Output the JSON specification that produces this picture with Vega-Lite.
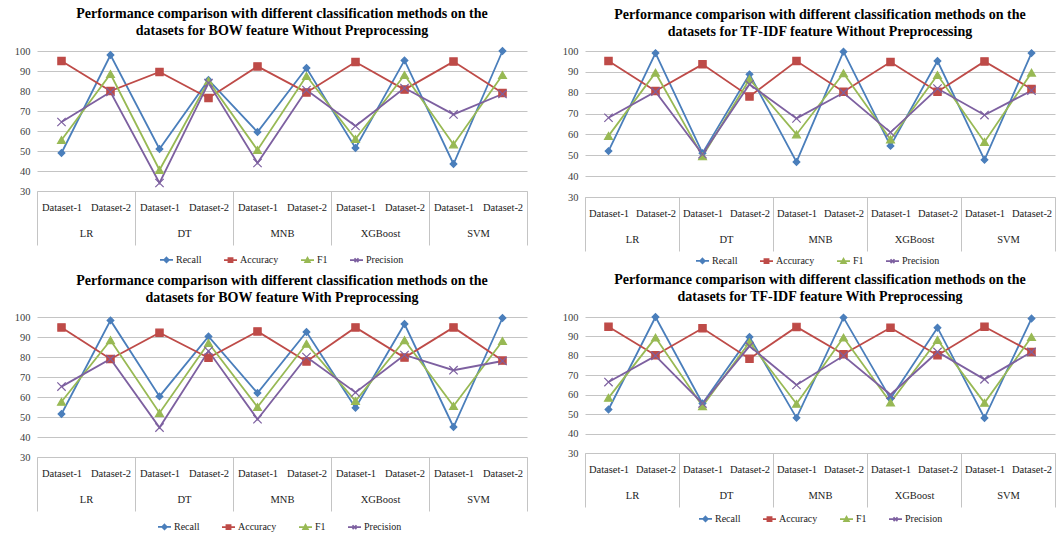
{
"$schema": "https://vega.github.io/schema/vega-lite/v6.json",
"padding": {"left": 14, "top": 7, "right": 0, "bottom": 0},
"background": "white",
"config": {"view": {"stroke": null}, "font": "Liberation Serif", "axis": {"labelFont": "Liberation Serif"}, "legend": {"labelFont": "Liberation Serif"}},
"datasets": {"d": [
{"p":"A","cat":"LR|Dataset-1","model":"LR","metric":"Recall","value":49},
{"p":"A","cat":"LR|Dataset-1","model":"LR","metric":"Accuracy","value":95},
{"p":"A","cat":"LR|Dataset-1","model":"LR","metric":"F1","value":55.5},
{"p":"A","cat":"LR|Dataset-1","model":"LR","metric":"Precision","value":64.5},
{"p":"A","cat":"LR|Dataset-2","model":"LR","metric":"Recall","value":98},
{"p":"A","cat":"LR|Dataset-2","model":"LR","metric":"Accuracy","value":80},
{"p":"A","cat":"LR|Dataset-2","model":"LR","metric":"F1","value":88.5},
{"p":"A","cat":"LR|Dataset-2","model":"LR","metric":"Precision","value":79.5},
{"p":"A","cat":"DT|Dataset-1","model":"DT","metric":"Recall","value":51},
{"p":"A","cat":"DT|Dataset-1","model":"DT","metric":"Accuracy","value":89.5},
{"p":"A","cat":"DT|Dataset-1","model":"DT","metric":"F1","value":40.5},
{"p":"A","cat":"DT|Dataset-1","model":"DT","metric":"Precision","value":34},
{"p":"A","cat":"DT|Dataset-2","model":"DT","metric":"Recall","value":85.5},
{"p":"A","cat":"DT|Dataset-2","model":"DT","metric":"Accuracy","value":76.5},
{"p":"A","cat":"DT|Dataset-2","model":"DT","metric":"F1","value":85},
{"p":"A","cat":"DT|Dataset-2","model":"DT","metric":"Precision","value":84},
{"p":"A","cat":"MNB|Dataset-1","model":"MNB","metric":"Recall","value":59.5},
{"p":"A","cat":"MNB|Dataset-1","model":"MNB","metric":"Accuracy","value":92.3},
{"p":"A","cat":"MNB|Dataset-1","model":"MNB","metric":"F1","value":50.5},
{"p":"A","cat":"MNB|Dataset-1","model":"MNB","metric":"Precision","value":44},
{"p":"A","cat":"MNB|Dataset-2","model":"MNB","metric":"Recall","value":91.5},
{"p":"A","cat":"MNB|Dataset-2","model":"MNB","metric":"Accuracy","value":79.3},
{"p":"A","cat":"MNB|Dataset-2","model":"MNB","metric":"F1","value":87.5},
{"p":"A","cat":"MNB|Dataset-2","model":"MNB","metric":"Precision","value":80.5},
{"p":"A","cat":"XGBoost|Dataset-1","model":"XGBoost","metric":"Recall","value":51.5},
{"p":"A","cat":"XGBoost|Dataset-1","model":"XGBoost","metric":"Accuracy","value":94.5},
{"p":"A","cat":"XGBoost|Dataset-1","model":"XGBoost","metric":"F1","value":56},
{"p":"A","cat":"XGBoost|Dataset-1","model":"XGBoost","metric":"Precision","value":62.5},
{"p":"A","cat":"XGBoost|Dataset-2","model":"XGBoost","metric":"Recall","value":95.3},
{"p":"A","cat":"XGBoost|Dataset-2","model":"XGBoost","metric":"Accuracy","value":80.7},
{"p":"A","cat":"XGBoost|Dataset-2","model":"XGBoost","metric":"F1","value":88},
{"p":"A","cat":"XGBoost|Dataset-2","model":"XGBoost","metric":"Precision","value":81.5},
{"p":"A","cat":"SVM|Dataset-1","model":"SVM","metric":"Recall","value":43.5},
{"p":"A","cat":"SVM|Dataset-1","model":"SVM","metric":"Accuracy","value":94.7},
{"p":"A","cat":"SVM|Dataset-1","model":"SVM","metric":"F1","value":53.3},
{"p":"A","cat":"SVM|Dataset-1","model":"SVM","metric":"Precision","value":68.3},
{"p":"A","cat":"SVM|Dataset-2","model":"SVM","metric":"Recall","value":100},
{"p":"A","cat":"SVM|Dataset-2","model":"SVM","metric":"Accuracy","value":79},
{"p":"A","cat":"SVM|Dataset-2","model":"SVM","metric":"F1","value":88},
{"p":"A","cat":"SVM|Dataset-2","model":"SVM","metric":"Precision","value":78.5},
{"p":"B","cat":"LR|Dataset-1","model":"LR","metric":"Recall","value":52},
{"p":"B","cat":"LR|Dataset-1","model":"LR","metric":"Accuracy","value":95.2},
{"p":"B","cat":"LR|Dataset-1","model":"LR","metric":"F1","value":59.3},
{"p":"B","cat":"LR|Dataset-1","model":"LR","metric":"Precision","value":68},
{"p":"B","cat":"LR|Dataset-2","model":"LR","metric":"Recall","value":99},
{"p":"B","cat":"LR|Dataset-2","model":"LR","metric":"Accuracy","value":80.8},
{"p":"B","cat":"LR|Dataset-2","model":"LR","metric":"F1","value":89.6},
{"p":"B","cat":"LR|Dataset-2","model":"LR","metric":"Precision","value":80.5},
{"p":"B","cat":"DT|Dataset-1","model":"DT","metric":"Recall","value":51},
{"p":"B","cat":"DT|Dataset-1","model":"DT","metric":"Accuracy","value":93.6},
{"p":"B","cat":"DT|Dataset-1","model":"DT","metric":"F1","value":49.5},
{"p":"B","cat":"DT|Dataset-1","model":"DT","metric":"Precision","value":50.5},
{"p":"B","cat":"DT|Dataset-2","model":"DT","metric":"Recall","value":88.8},
{"p":"B","cat":"DT|Dataset-2","model":"DT","metric":"Accuracy","value":78.2},
{"p":"B","cat":"DT|Dataset-2","model":"DT","metric":"F1","value":86.5},
{"p":"B","cat":"DT|Dataset-2","model":"DT","metric":"Precision","value":84},
{"p":"B","cat":"MNB|Dataset-1","model":"MNB","metric":"Recall","value":46.8},
{"p":"B","cat":"MNB|Dataset-1","model":"MNB","metric":"Accuracy","value":95.2},
{"p":"B","cat":"MNB|Dataset-1","model":"MNB","metric":"F1","value":60},
{"p":"B","cat":"MNB|Dataset-1","model":"MNB","metric":"Precision","value":67.7},
{"p":"B","cat":"MNB|Dataset-2","model":"MNB","metric":"Recall","value":99.7},
{"p":"B","cat":"MNB|Dataset-2","model":"MNB","metric":"Accuracy","value":80.5},
{"p":"B","cat":"MNB|Dataset-2","model":"MNB","metric":"F1","value":89.3},
{"p":"B","cat":"MNB|Dataset-2","model":"MNB","metric":"Precision","value":80},
{"p":"B","cat":"XGBoost|Dataset-1","model":"XGBoost","metric":"Recall","value":54.5},
{"p":"B","cat":"XGBoost|Dataset-1","model":"XGBoost","metric":"Accuracy","value":94.7},
{"p":"B","cat":"XGBoost|Dataset-1","model":"XGBoost","metric":"F1","value":57.6},
{"p":"B","cat":"XGBoost|Dataset-1","model":"XGBoost","metric":"Precision","value":61},
{"p":"B","cat":"XGBoost|Dataset-2","model":"XGBoost","metric":"Recall","value":95.2},
{"p":"B","cat":"XGBoost|Dataset-2","model":"XGBoost","metric":"Accuracy","value":80.5},
{"p":"B","cat":"XGBoost|Dataset-2","model":"XGBoost","metric":"F1","value":88.5},
{"p":"B","cat":"XGBoost|Dataset-2","model":"XGBoost","metric":"Precision","value":82},
{"p":"B","cat":"SVM|Dataset-1","model":"SVM","metric":"Recall","value":47.8},
{"p":"B","cat":"SVM|Dataset-1","model":"SVM","metric":"Accuracy","value":95},
{"p":"B","cat":"SVM|Dataset-1","model":"SVM","metric":"F1","value":56.4},
{"p":"B","cat":"SVM|Dataset-1","model":"SVM","metric":"Precision","value":69.3},
{"p":"B","cat":"SVM|Dataset-2","model":"SVM","metric":"Recall","value":99},
{"p":"B","cat":"SVM|Dataset-2","model":"SVM","metric":"Accuracy","value":81.8},
{"p":"B","cat":"SVM|Dataset-2","model":"SVM","metric":"F1","value":89.6},
{"p":"B","cat":"SVM|Dataset-2","model":"SVM","metric":"Precision","value":81},
{"p":"C","cat":"LR|Dataset-1","model":"LR","metric":"Recall","value":51.5},
{"p":"C","cat":"LR|Dataset-1","model":"LR","metric":"Accuracy","value":94.8},
{"p":"C","cat":"LR|Dataset-1","model":"LR","metric":"F1","value":57.6},
{"p":"C","cat":"LR|Dataset-1","model":"LR","metric":"Precision","value":65.2},
{"p":"C","cat":"LR|Dataset-2","model":"LR","metric":"Recall","value":98.3},
{"p":"C","cat":"LR|Dataset-2","model":"LR","metric":"Accuracy","value":79},
{"p":"C","cat":"LR|Dataset-2","model":"LR","metric":"F1","value":88.4},
{"p":"C","cat":"LR|Dataset-2","model":"LR","metric":"Precision","value":79},
{"p":"C","cat":"DT|Dataset-1","model":"DT","metric":"Recall","value":60.3},
{"p":"C","cat":"DT|Dataset-1","model":"DT","metric":"Accuracy","value":92.1},
{"p":"C","cat":"DT|Dataset-1","model":"DT","metric":"F1","value":52},
{"p":"C","cat":"DT|Dataset-1","model":"DT","metric":"Precision","value":44.7},
{"p":"C","cat":"DT|Dataset-2","model":"DT","metric":"Recall","value":90.3},
{"p":"C","cat":"DT|Dataset-2","model":"DT","metric":"Accuracy","value":79.6},
{"p":"C","cat":"DT|Dataset-2","model":"DT","metric":"F1","value":87},
{"p":"C","cat":"DT|Dataset-2","model":"DT","metric":"Precision","value":83},
{"p":"C","cat":"MNB|Dataset-1","model":"MNB","metric":"Recall","value":62},
{"p":"C","cat":"MNB|Dataset-1","model":"MNB","metric":"Accuracy","value":92.8},
{"p":"C","cat":"MNB|Dataset-1","model":"MNB","metric":"F1","value":55},
{"p":"C","cat":"MNB|Dataset-1","model":"MNB","metric":"Precision","value":48.9},
{"p":"C","cat":"MNB|Dataset-2","model":"MNB","metric":"Recall","value":92.5},
{"p":"C","cat":"MNB|Dataset-2","model":"MNB","metric":"Accuracy","value":77.8},
{"p":"C","cat":"MNB|Dataset-2","model":"MNB","metric":"F1","value":86.6},
{"p":"C","cat":"MNB|Dataset-2","model":"MNB","metric":"Precision","value":80},
{"p":"C","cat":"XGBoost|Dataset-1","model":"XGBoost","metric":"Recall","value":54.6},
{"p":"C","cat":"XGBoost|Dataset-1","model":"XGBoost","metric":"Accuracy","value":94.8},
{"p":"C","cat":"XGBoost|Dataset-1","model":"XGBoost","metric":"F1","value":58},
{"p":"C","cat":"XGBoost|Dataset-1","model":"XGBoost","metric":"Precision","value":62.3},
{"p":"C","cat":"XGBoost|Dataset-2","model":"XGBoost","metric":"Recall","value":96.5},
{"p":"C","cat":"XGBoost|Dataset-2","model":"XGBoost","metric":"Accuracy","value":79.7},
{"p":"C","cat":"XGBoost|Dataset-2","model":"XGBoost","metric":"F1","value":88.4},
{"p":"C","cat":"XGBoost|Dataset-2","model":"XGBoost","metric":"Precision","value":81},
{"p":"C","cat":"SVM|Dataset-1","model":"SVM","metric":"Recall","value":45},
{"p":"C","cat":"SVM|Dataset-1","model":"SVM","metric":"Accuracy","value":94.8},
{"p":"C","cat":"SVM|Dataset-1","model":"SVM","metric":"F1","value":55.5},
{"p":"C","cat":"SVM|Dataset-1","model":"SVM","metric":"Precision","value":73.4},
{"p":"C","cat":"SVM|Dataset-2","model":"SVM","metric":"Recall","value":99.5},
{"p":"C","cat":"SVM|Dataset-2","model":"SVM","metric":"Accuracy","value":78.2},
{"p":"C","cat":"SVM|Dataset-2","model":"SVM","metric":"F1","value":88},
{"p":"C","cat":"SVM|Dataset-2","model":"SVM","metric":"Precision","value":78},
{"p":"D","cat":"LR|Dataset-1","model":"LR","metric":"Recall","value":52.4},
{"p":"D","cat":"LR|Dataset-1","model":"LR","metric":"Accuracy","value":95},
{"p":"D","cat":"LR|Dataset-1","model":"LR","metric":"F1","value":58.4},
{"p":"D","cat":"LR|Dataset-1","model":"LR","metric":"Precision","value":66.5},
{"p":"D","cat":"LR|Dataset-2","model":"LR","metric":"Recall","value":100},
{"p":"D","cat":"LR|Dataset-2","model":"LR","metric":"Accuracy","value":80.3},
{"p":"D","cat":"LR|Dataset-2","model":"LR","metric":"F1","value":89.4},
{"p":"D","cat":"LR|Dataset-2","model":"LR","metric":"Precision","value":80},
{"p":"D","cat":"DT|Dataset-1","model":"DT","metric":"Recall","value":55.5},
{"p":"D","cat":"DT|Dataset-1","model":"DT","metric":"Accuracy","value":94.2},
{"p":"D","cat":"DT|Dataset-1","model":"DT","metric":"F1","value":54.1},
{"p":"D","cat":"DT|Dataset-1","model":"DT","metric":"Precision","value":55.5},
{"p":"D","cat":"DT|Dataset-2","model":"DT","metric":"Recall","value":89.7},
{"p":"D","cat":"DT|Dataset-2","model":"DT","metric":"Accuracy","value":78.5},
{"p":"D","cat":"DT|Dataset-2","model":"DT","metric":"F1","value":87},
{"p":"D","cat":"DT|Dataset-2","model":"DT","metric":"Precision","value":85},
{"p":"D","cat":"MNB|Dataset-1","model":"MNB","metric":"Recall","value":48.1},
{"p":"D","cat":"MNB|Dataset-1","model":"MNB","metric":"Accuracy","value":94.9},
{"p":"D","cat":"MNB|Dataset-1","model":"MNB","metric":"F1","value":55.3},
{"p":"D","cat":"MNB|Dataset-1","model":"MNB","metric":"Precision","value":65},
{"p":"D","cat":"MNB|Dataset-2","model":"MNB","metric":"Recall","value":99.7},
{"p":"D","cat":"MNB|Dataset-2","model":"MNB","metric":"Accuracy","value":80.8},
{"p":"D","cat":"MNB|Dataset-2","model":"MNB","metric":"F1","value":89.4},
{"p":"D","cat":"MNB|Dataset-2","model":"MNB","metric":"Precision","value":80},
{"p":"D","cat":"XGBoost|Dataset-1","model":"XGBoost","metric":"Recall","value":58},
{"p":"D","cat":"XGBoost|Dataset-1","model":"XGBoost","metric":"Accuracy","value":94.5},
{"p":"D","cat":"XGBoost|Dataset-1","model":"XGBoost","metric":"F1","value":56},
{"p":"D","cat":"XGBoost|Dataset-1","model":"XGBoost","metric":"Precision","value":60},
{"p":"D","cat":"XGBoost|Dataset-2","model":"XGBoost","metric":"Recall","value":94.5},
{"p":"D","cat":"XGBoost|Dataset-2","model":"XGBoost","metric":"Accuracy","value":80.3},
{"p":"D","cat":"XGBoost|Dataset-2","model":"XGBoost","metric":"F1","value":88.2},
{"p":"D","cat":"XGBoost|Dataset-2","model":"XGBoost","metric":"Precision","value":82},
{"p":"D","cat":"SVM|Dataset-1","model":"SVM","metric":"Recall","value":48},
{"p":"D","cat":"SVM|Dataset-1","model":"SVM","metric":"Accuracy","value":95},
{"p":"D","cat":"SVM|Dataset-1","model":"SVM","metric":"F1","value":55.8},
{"p":"D","cat":"SVM|Dataset-1","model":"SVM","metric":"Precision","value":67.9},
{"p":"D","cat":"SVM|Dataset-2","model":"SVM","metric":"Recall","value":99.2},
{"p":"D","cat":"SVM|Dataset-2","model":"SVM","metric":"Accuracy","value":82},
{"p":"D","cat":"SVM|Dataset-2","model":"SVM","metric":"F1","value":89.7},
{"p":"D","cat":"SVM|Dataset-2","model":"SVM","metric":"Precision","value":82}
]},
"data": {"name": "d"},
"spacing": 6,
"resolve": {"scale": {"x": "independent", "y": "independent", "color": "independent", "stroke": "independent", "shape": "independent", "size": "independent"}, "legend": {"color": "independent", "stroke": "independent", "shape": "independent", "size": "independent"}},
"vconcat": [
{"hconcat": [
{"width": 490, "height": 140,
 "title": {"text": ["Performance comparison with different classification methods on the", "datasets for BOW feature Without Preprocessing"], "font": "Liberation Serif", "fontSize": 14, "fontWeight": "bold", "color": "#000000", "lineHeight": 17, "offset": 7, "anchor": "middle"},
 "transform": [{"filter": {"field": "p", "equal": "A"}}],
 "encoding": {"y": {"field": "value", "type": "quantitative", "scale": {"domain": [30, 100], "nice": false, "zero": false}, "axis": {"values": [30, 40, 50, 60, 70, 80, 90, 100], "grid": true, "gridColor": "#c4c4c4", "domain": false, "ticks": false, "labelFont": "Liberation Serif", "labelFontSize": 10.5, "labelColor": "#404040", "labelPadding": 7, "title": null}}},
 "layer": [
  {"encoding": {"x": {"field": "cat", "type": "nominal", "sort": ["LR|Dataset-1","LR|Dataset-2","DT|Dataset-1","DT|Dataset-2","MNB|Dataset-1","MNB|Dataset-2","XGBoost|Dataset-1","XGBoost|Dataset-2","SVM|Dataset-1","SVM|Dataset-2"], "scale": {"type": "point", "padding": 0.5}, "axis": {"orient": "bottom", "title": null, "labelExpr": "split(datum.value,'|')[1]", "labelAngle": 0, "ticks": false, "domain": true, "domainColor": "#c4c4c4", "labelPadding": 11, "labelFont": "Liberation Serif", "labelFontSize": 10.5, "labelColor": "#222222", "grid": false, "labelOverlap": false}}},
   "layer": [
    {"mark": {"type": "line", "strokeWidth": 1.8}, "encoding": {"color": {"field": "metric", "type": "nominal", "scale": {"domain": ["Recall","Accuracy","F1","Precision"], "range": ["#4A7EBB","#BE4B48","#98B954","#7D60A0"]}, "legend": null}}},
    {"mark": {"type": "point", "filled": true, "opacity": 1, "strokeWidth": 1.2}, "encoding": {
      "color": {"field": "metric", "type": "nominal", "scale": {"domain": ["Recall","Accuracy","F1","Precision"], "range": ["#4A7EBB","#BE4B48","#98B954","#7D60A0"]}, "legend": null},
      "stroke": {"field": "metric", "type": "nominal", "scale": {"domain": ["Recall","Accuracy","F1","Precision"], "range": ["#4A7EBB","#BE4B48","#98B954","#7D60A0"]}, "legend": null},
      "shape": {"field": "metric", "type": "nominal", "scale": {"domain": ["Recall","Accuracy","F1","Precision"], "range": ["diamond","square","triangle-up","M-1,-1L1,1M-1,1L1,-1"]}, "legend": null},
      "size": {"field": "metric", "type": "nominal", "scale": {"domain": ["Recall","Accuracy","F1","Precision"], "range": [45, 70, 45, 36]}, "legend": null}}},
    {"transform": [{"filter": {"field": "value", "lt": 0}}], "mark": {"type": "point", "filled": true, "strokeWidth": 1.6}, "encoding": {
      "color": {"field": "metric", "type": "nominal", "scale": {"domain": ["Recall","Accuracy","F1","Precision"], "range": ["#4A7EBB","#BE4B48","#98B954","#7D60A0"]}, "legend": {"title": null, "orient": "none", "legendX": 122, "legendY": 201, "direction": "horizontal", "symbolSize": 169, "symbolStrokeWidth": 1.6, "symbolOpacity": 1, "labelFont": "Liberation Serif", "labelFontSize": 10, "labelColor": "#222222", "columnPadding": 18, "labelOffset": 2}},
      "stroke": {"field": "metric", "type": "nominal", "scale": {"domain": ["Recall","Accuracy","F1","Precision"], "range": ["#4A7EBB","#BE4B48","#98B954","#7D60A0"]}, "legend": {"title": null, "orient": "none", "legendX": 122, "legendY": 201, "direction": "horizontal", "symbolSize": 169, "symbolStrokeWidth": 1.6, "symbolOpacity": 1, "labelFont": "Liberation Serif", "labelFontSize": 10, "labelColor": "#222222", "columnPadding": 18, "labelOffset": 2}},
      "shape": {"field": "metric", "type": "nominal", "scale": {"domain": ["Recall","Accuracy","F1","Precision"], "range": ["M-1,0H1M0,-0.38L0.38,0L0,0.38L-0.38,0Z","M-1,0H1M-0.33,-0.33H0.33V0.33H-0.33Z","M-1,0H1M0,-0.38L0.38,0.3H-0.38Z","M-1,0H1M-0.3,-0.3L0.3,0.3M-0.3,0.3L0.3,-0.3"]}, "legend": {"title": null, "orient": "none", "legendX": 122, "legendY": 201, "direction": "horizontal", "symbolSize": 169, "symbolStrokeWidth": 1.6, "symbolOpacity": 1, "labelFont": "Liberation Serif", "labelFontSize": 10, "labelColor": "#222222", "columnPadding": 18, "labelOffset": 2}}}}
   ],
   "resolve": {"scale": {"color": "independent", "stroke": "independent", "shape": "independent", "size": "independent"}, "legend": {"color": "independent", "stroke": "independent", "shape": "independent", "size": "independent"}}},
  {"mark": {"type": "point", "opacity": 0}, "encoding": {"x": {"field": "model", "type": "nominal", "sort": ["LR","DT","MNB","XGBoost","SVM"], "scale": {"type": "band", "paddingInner": 0, "paddingOuter": 0}, "axis": {"orient": "bottom", "title": null, "domain": false, "ticks": true, "tickBand": "extent", "tickSize": 54, "tickColor": "#c4c4c4", "tickWidth": 1, "labelPadding": -17, "labelAngle": 0, "labelFont": "Liberation Serif", "labelFontSize": 10.5, "labelColor": "#222222", "grid": false}}}}
 ],
 "resolve": {"scale": {"x": "independent"}}},
{"width": 470, "height": 146,
 "title": {"text": ["Performance comparison with different classification methods on the", "datasets for TF-IDF feature Without Preprocessing"], "font": "Liberation Serif", "fontSize": 14, "fontWeight": "bold", "color": "#000000", "lineHeight": 17, "offset": 7, "anchor": "middle"},
 "transform": [{"filter": {"field": "p", "equal": "B"}}],
 "encoding": {"y": {"field": "value", "type": "quantitative", "scale": {"domain": [30, 100], "nice": false, "zero": false}, "axis": {"values": [30, 40, 50, 60, 70, 80, 90, 100], "grid": true, "gridColor": "#c4c4c4", "domain": false, "ticks": false, "labelFont": "Liberation Serif", "labelFontSize": 10.5, "labelColor": "#404040", "labelPadding": 7, "title": null}}},
 "layer": [
  {"encoding": {"x": {"field": "cat", "type": "nominal", "sort": ["LR|Dataset-1","LR|Dataset-2","DT|Dataset-1","DT|Dataset-2","MNB|Dataset-1","MNB|Dataset-2","XGBoost|Dataset-1","XGBoost|Dataset-2","SVM|Dataset-1","SVM|Dataset-2"], "scale": {"type": "point", "padding": 0.5}, "axis": {"orient": "bottom", "title": null, "labelExpr": "split(datum.value,'|')[1]", "labelAngle": 0, "ticks": false, "domain": true, "domainColor": "#c4c4c4", "labelPadding": 11, "labelFont": "Liberation Serif", "labelFontSize": 10.5, "labelColor": "#222222", "grid": false, "labelOverlap": false}}},
   "layer": [
    {"mark": {"type": "line", "strokeWidth": 1.8}, "encoding": {"color": {"field": "metric", "type": "nominal", "scale": {"domain": ["Recall","Accuracy","F1","Precision"], "range": ["#4A7EBB","#BE4B48","#98B954","#7D60A0"]}, "legend": null}}},
    {"mark": {"type": "point", "filled": true, "opacity": 1, "strokeWidth": 1.2}, "encoding": {
      "color": {"field": "metric", "type": "nominal", "scale": {"domain": ["Recall","Accuracy","F1","Precision"], "range": ["#4A7EBB","#BE4B48","#98B954","#7D60A0"]}, "legend": null},
      "stroke": {"field": "metric", "type": "nominal", "scale": {"domain": ["Recall","Accuracy","F1","Precision"], "range": ["#4A7EBB","#BE4B48","#98B954","#7D60A0"]}, "legend": null},
      "shape": {"field": "metric", "type": "nominal", "scale": {"domain": ["Recall","Accuracy","F1","Precision"], "range": ["diamond","square","triangle-up","M-1,-1L1,1M-1,1L1,-1"]}, "legend": null},
      "size": {"field": "metric", "type": "nominal", "scale": {"domain": ["Recall","Accuracy","F1","Precision"], "range": [45, 70, 45, 36]}, "legend": null}}},
    {"transform": [{"filter": {"field": "value", "lt": 0}}], "mark": {"type": "point", "filled": true, "strokeWidth": 1.6}, "encoding": {
      "color": {"field": "metric", "type": "nominal", "scale": {"domain": ["Recall","Accuracy","F1","Precision"], "range": ["#4A7EBB","#BE4B48","#98B954","#7D60A0"]}, "legend": {"title": null, "orient": "none", "legendX": 110, "legendY": 202, "direction": "horizontal", "symbolSize": 169, "symbolStrokeWidth": 1.6, "symbolOpacity": 1, "labelFont": "Liberation Serif", "labelFontSize": 10, "labelColor": "#222222", "columnPadding": 18, "labelOffset": 2}},
      "stroke": {"field": "metric", "type": "nominal", "scale": {"domain": ["Recall","Accuracy","F1","Precision"], "range": ["#4A7EBB","#BE4B48","#98B954","#7D60A0"]}, "legend": {"title": null, "orient": "none", "legendX": 110, "legendY": 202, "direction": "horizontal", "symbolSize": 169, "symbolStrokeWidth": 1.6, "symbolOpacity": 1, "labelFont": "Liberation Serif", "labelFontSize": 10, "labelColor": "#222222", "columnPadding": 18, "labelOffset": 2}},
      "shape": {"field": "metric", "type": "nominal", "scale": {"domain": ["Recall","Accuracy","F1","Precision"], "range": ["M-1,0H1M0,-0.38L0.38,0L0,0.38L-0.38,0Z","M-1,0H1M-0.33,-0.33H0.33V0.33H-0.33Z","M-1,0H1M0,-0.38L0.38,0.3H-0.38Z","M-1,0H1M-0.3,-0.3L0.3,0.3M-0.3,0.3L0.3,-0.3"]}, "legend": {"title": null, "orient": "none", "legendX": 110, "legendY": 202, "direction": "horizontal", "symbolSize": 169, "symbolStrokeWidth": 1.6, "symbolOpacity": 1, "labelFont": "Liberation Serif", "labelFontSize": 10, "labelColor": "#222222", "columnPadding": 18, "labelOffset": 2}}}}
   ],
   "resolve": {"scale": {"color": "independent", "stroke": "independent", "shape": "independent", "size": "independent"}, "legend": {"color": "independent", "stroke": "independent", "shape": "independent", "size": "independent"}}},
  {"mark": {"type": "point", "opacity": 0}, "encoding": {"x": {"field": "model", "type": "nominal", "sort": ["LR","DT","MNB","XGBoost","SVM"], "scale": {"type": "band", "paddingInner": 0, "paddingOuter": 0}, "axis": {"orient": "bottom", "title": null, "domain": false, "ticks": true, "tickBand": "extent", "tickSize": 54, "tickColor": "#c4c4c4", "tickWidth": 1, "labelPadding": -17, "labelAngle": 0, "labelFont": "Liberation Serif", "labelFontSize": 10.5, "labelColor": "#222222", "grid": false}}}}
 ],
 "resolve": {"scale": {"x": "independent"}}}
], "spacing": 34,
"resolve": {"scale": {"x": "independent", "y": "independent", "color": "independent", "stroke": "independent", "shape": "independent", "size": "independent"}, "legend": {"color": "independent", "stroke": "independent", "shape": "independent", "size": "independent"}}},
{"hconcat": [
{"width": 490, "height": 140,
 "title": {"text": ["Performance comparison with different classification methods on the", "datasets for BOW feature With Preprocessing"], "font": "Liberation Serif", "fontSize": 14, "fontWeight": "bold", "color": "#000000", "lineHeight": 17, "offset": 7, "anchor": "middle"},
 "transform": [{"filter": {"field": "p", "equal": "C"}}],
 "encoding": {"y": {"field": "value", "type": "quantitative", "scale": {"domain": [30, 100], "nice": false, "zero": false}, "axis": {"values": [30, 40, 50, 60, 70, 80, 90, 100], "grid": true, "gridColor": "#c4c4c4", "domain": false, "ticks": false, "labelFont": "Liberation Serif", "labelFontSize": 10.5, "labelColor": "#404040", "labelPadding": 7, "title": null}}},
 "layer": [
  {"encoding": {"x": {"field": "cat", "type": "nominal", "sort": ["LR|Dataset-1","LR|Dataset-2","DT|Dataset-1","DT|Dataset-2","MNB|Dataset-1","MNB|Dataset-2","XGBoost|Dataset-1","XGBoost|Dataset-2","SVM|Dataset-1","SVM|Dataset-2"], "scale": {"type": "point", "padding": 0.5}, "axis": {"orient": "bottom", "title": null, "labelExpr": "split(datum.value,'|')[1]", "labelAngle": 0, "ticks": false, "domain": true, "domainColor": "#c4c4c4", "labelPadding": 11, "labelFont": "Liberation Serif", "labelFontSize": 10.5, "labelColor": "#222222", "grid": false, "labelOverlap": false}}},
   "layer": [
    {"mark": {"type": "line", "strokeWidth": 1.8}, "encoding": {"color": {"field": "metric", "type": "nominal", "scale": {"domain": ["Recall","Accuracy","F1","Precision"], "range": ["#4A7EBB","#BE4B48","#98B954","#7D60A0"]}, "legend": null}}},
    {"mark": {"type": "point", "filled": true, "opacity": 1, "strokeWidth": 1.2}, "encoding": {
      "color": {"field": "metric", "type": "nominal", "scale": {"domain": ["Recall","Accuracy","F1","Precision"], "range": ["#4A7EBB","#BE4B48","#98B954","#7D60A0"]}, "legend": null},
      "stroke": {"field": "metric", "type": "nominal", "scale": {"domain": ["Recall","Accuracy","F1","Precision"], "range": ["#4A7EBB","#BE4B48","#98B954","#7D60A0"]}, "legend": null},
      "shape": {"field": "metric", "type": "nominal", "scale": {"domain": ["Recall","Accuracy","F1","Precision"], "range": ["diamond","square","triangle-up","M-1,-1L1,1M-1,1L1,-1"]}, "legend": null},
      "size": {"field": "metric", "type": "nominal", "scale": {"domain": ["Recall","Accuracy","F1","Precision"], "range": [45, 70, 45, 36]}, "legend": null}}},
    {"transform": [{"filter": {"field": "value", "lt": 0}}], "mark": {"type": "point", "filled": true, "strokeWidth": 1.6}, "encoding": {
      "color": {"field": "metric", "type": "nominal", "scale": {"domain": ["Recall","Accuracy","F1","Precision"], "range": ["#4A7EBB","#BE4B48","#98B954","#7D60A0"]}, "legend": {"title": null, "orient": "none", "legendX": 120, "legendY": 202, "direction": "horizontal", "symbolSize": 169, "symbolStrokeWidth": 1.6, "symbolOpacity": 1, "labelFont": "Liberation Serif", "labelFontSize": 10, "labelColor": "#222222", "columnPadding": 18, "labelOffset": 2}},
      "stroke": {"field": "metric", "type": "nominal", "scale": {"domain": ["Recall","Accuracy","F1","Precision"], "range": ["#4A7EBB","#BE4B48","#98B954","#7D60A0"]}, "legend": {"title": null, "orient": "none", "legendX": 120, "legendY": 202, "direction": "horizontal", "symbolSize": 169, "symbolStrokeWidth": 1.6, "symbolOpacity": 1, "labelFont": "Liberation Serif", "labelFontSize": 10, "labelColor": "#222222", "columnPadding": 18, "labelOffset": 2}},
      "shape": {"field": "metric", "type": "nominal", "scale": {"domain": ["Recall","Accuracy","F1","Precision"], "range": ["M-1,0H1M0,-0.38L0.38,0L0,0.38L-0.38,0Z","M-1,0H1M-0.33,-0.33H0.33V0.33H-0.33Z","M-1,0H1M0,-0.38L0.38,0.3H-0.38Z","M-1,0H1M-0.3,-0.3L0.3,0.3M-0.3,0.3L0.3,-0.3"]}, "legend": {"title": null, "orient": "none", "legendX": 120, "legendY": 202, "direction": "horizontal", "symbolSize": 169, "symbolStrokeWidth": 1.6, "symbolOpacity": 1, "labelFont": "Liberation Serif", "labelFontSize": 10, "labelColor": "#222222", "columnPadding": 18, "labelOffset": 2}}}}
   ],
   "resolve": {"scale": {"color": "independent", "stroke": "independent", "shape": "independent", "size": "independent"}, "legend": {"color": "independent", "stroke": "independent", "shape": "independent", "size": "independent"}}},
  {"mark": {"type": "point", "opacity": 0}, "encoding": {"x": {"field": "model", "type": "nominal", "sort": ["LR","DT","MNB","XGBoost","SVM"], "scale": {"type": "band", "paddingInner": 0, "paddingOuter": 0}, "axis": {"orient": "bottom", "title": null, "domain": false, "ticks": true, "tickBand": "extent", "tickSize": 54, "tickColor": "#c4c4c4", "tickWidth": 1, "labelPadding": -17, "labelAngle": 0, "labelFont": "Liberation Serif", "labelFontSize": 10.5, "labelColor": "#222222", "grid": false}}}}
 ],
 "resolve": {"scale": {"x": "independent"}}},
{"width": 470, "height": 136,
 "title": {"text": ["Performance comparison with different classification methods on the", "datasets for TF-IDF feature With Preprocessing"], "font": "Liberation Serif", "fontSize": 14, "fontWeight": "bold", "color": "#000000", "lineHeight": 17, "offset": 7, "anchor": "middle"},
 "transform": [{"filter": {"field": "p", "equal": "D"}}],
 "encoding": {"y": {"field": "value", "type": "quantitative", "scale": {"domain": [30, 100], "nice": false, "zero": false}, "axis": {"values": [30, 40, 50, 60, 70, 80, 90, 100], "grid": true, "gridColor": "#c4c4c4", "domain": false, "ticks": false, "labelFont": "Liberation Serif", "labelFontSize": 10.5, "labelColor": "#404040", "labelPadding": 7, "title": null}}},
 "layer": [
  {"encoding": {"x": {"field": "cat", "type": "nominal", "sort": ["LR|Dataset-1","LR|Dataset-2","DT|Dataset-1","DT|Dataset-2","MNB|Dataset-1","MNB|Dataset-2","XGBoost|Dataset-1","XGBoost|Dataset-2","SVM|Dataset-1","SVM|Dataset-2"], "scale": {"type": "point", "padding": 0.5}, "axis": {"orient": "bottom", "title": null, "labelExpr": "split(datum.value,'|')[1]", "labelAngle": 0, "ticks": false, "domain": true, "domainColor": "#c4c4c4", "labelPadding": 11, "labelFont": "Liberation Serif", "labelFontSize": 10.5, "labelColor": "#222222", "grid": false, "labelOverlap": false}}},
   "layer": [
    {"mark": {"type": "line", "strokeWidth": 1.8}, "encoding": {"color": {"field": "metric", "type": "nominal", "scale": {"domain": ["Recall","Accuracy","F1","Precision"], "range": ["#4A7EBB","#BE4B48","#98B954","#7D60A0"]}, "legend": null}}},
    {"mark": {"type": "point", "filled": true, "opacity": 1, "strokeWidth": 1.2}, "encoding": {
      "color": {"field": "metric", "type": "nominal", "scale": {"domain": ["Recall","Accuracy","F1","Precision"], "range": ["#4A7EBB","#BE4B48","#98B954","#7D60A0"]}, "legend": null},
      "stroke": {"field": "metric", "type": "nominal", "scale": {"domain": ["Recall","Accuracy","F1","Precision"], "range": ["#4A7EBB","#BE4B48","#98B954","#7D60A0"]}, "legend": null},
      "shape": {"field": "metric", "type": "nominal", "scale": {"domain": ["Recall","Accuracy","F1","Precision"], "range": ["diamond","square","triangle-up","M-1,-1L1,1M-1,1L1,-1"]}, "legend": null},
      "size": {"field": "metric", "type": "nominal", "scale": {"domain": ["Recall","Accuracy","F1","Precision"], "range": [45, 70, 45, 36]}, "legend": null}}},
    {"transform": [{"filter": {"field": "value", "lt": 0}}], "mark": {"type": "point", "filled": true, "strokeWidth": 1.6}, "encoding": {
      "color": {"field": "metric", "type": "nominal", "scale": {"domain": ["Recall","Accuracy","F1","Precision"], "range": ["#4A7EBB","#BE4B48","#98B954","#7D60A0"]}, "legend": {"title": null, "orient": "none", "legendX": 113, "legendY": 194, "direction": "horizontal", "symbolSize": 169, "symbolStrokeWidth": 1.6, "symbolOpacity": 1, "labelFont": "Liberation Serif", "labelFontSize": 10, "labelColor": "#222222", "columnPadding": 18, "labelOffset": 2}},
      "stroke": {"field": "metric", "type": "nominal", "scale": {"domain": ["Recall","Accuracy","F1","Precision"], "range": ["#4A7EBB","#BE4B48","#98B954","#7D60A0"]}, "legend": {"title": null, "orient": "none", "legendX": 113, "legendY": 194, "direction": "horizontal", "symbolSize": 169, "symbolStrokeWidth": 1.6, "symbolOpacity": 1, "labelFont": "Liberation Serif", "labelFontSize": 10, "labelColor": "#222222", "columnPadding": 18, "labelOffset": 2}},
      "shape": {"field": "metric", "type": "nominal", "scale": {"domain": ["Recall","Accuracy","F1","Precision"], "range": ["M-1,0H1M0,-0.38L0.38,0L0,0.38L-0.38,0Z","M-1,0H1M-0.33,-0.33H0.33V0.33H-0.33Z","M-1,0H1M0,-0.38L0.38,0.3H-0.38Z","M-1,0H1M-0.3,-0.3L0.3,0.3M-0.3,0.3L0.3,-0.3"]}, "legend": {"title": null, "orient": "none", "legendX": 113, "legendY": 194, "direction": "horizontal", "symbolSize": 169, "symbolStrokeWidth": 1.6, "symbolOpacity": 1, "labelFont": "Liberation Serif", "labelFontSize": 10, "labelColor": "#222222", "columnPadding": 18, "labelOffset": 2}}}}
   ],
   "resolve": {"scale": {"color": "independent", "stroke": "independent", "shape": "independent", "size": "independent"}, "legend": {"color": "independent", "stroke": "independent", "shape": "independent", "size": "independent"}}},
  {"mark": {"type": "point", "opacity": 0}, "encoding": {"x": {"field": "model", "type": "nominal", "sort": ["LR","DT","MNB","XGBoost","SVM"], "scale": {"type": "band", "paddingInner": 0, "paddingOuter": 0}, "axis": {"orient": "bottom", "title": null, "domain": false, "ticks": true, "tickBand": "extent", "tickSize": 54, "tickColor": "#c4c4c4", "tickWidth": 1, "labelPadding": -17, "labelAngle": 0, "labelFont": "Liberation Serif", "labelFontSize": 10.5, "labelColor": "#222222", "grid": false}}}}
 ],
 "resolve": {"scale": {"x": "independent"}}}
], "spacing": 34,
"resolve": {"scale": {"x": "independent", "y": "independent", "color": "independent", "stroke": "independent", "shape": "independent", "size": "independent"}, "legend": {"color": "independent", "stroke": "independent", "shape": "independent", "size": "independent"}}}
]
}
